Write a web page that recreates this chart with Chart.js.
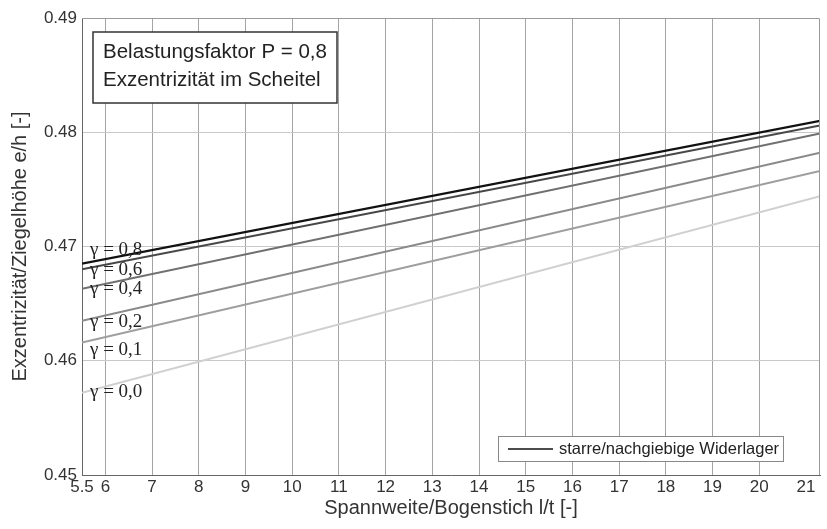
<!DOCTYPE html>
<html>
<head>
<meta charset="utf-8">
<script src="https://cdn.jsdelivr.net/npm/chart.js@4.4.1/dist/chart.umd.min.js"></script>
<style>
  body { margin: 0; background: #fff; }
</style>
</head>
<body>
<canvas id="chart" width="827" height="529"></canvas>
<script>
// values, one entry per gamma curve
const gammaLabels = ['0,8', '0,6', '0,4', '0,2', '0,1', '0,0'];
const xValues = [5.5, 21.3];
const valuesStart = [0.4685, 0.4680, 0.4663, 0.4635, 0.4616, 0.4572];
const valuesEnd = [0.4810, 0.4806, 0.4799, 0.4782, 0.4766, 0.4744];
const xTicks = [5.5, 6, 7, 8, 9, 10, 11, 12, 13, 14, 15, 16, 17, 18, 19, 20, 21];
const yTicks = [0.45, 0.46, 0.47, 0.48, 0.49];

const lineColors = ['#111111', '#474747', '#707070', '#8a8a8a', '#9e9e9e', '#d0d0d0'];
const labelShift = [-14, 1, 0, 1, 8, -1]; // px, so the text sits like in the original

const sans = '"Liberation Sans", Arial, sans-serif';

const datasets = gammaLabels.map((g, i) => ({
  label: 'γ = ' + g,
  data: [{ x: xValues[0], y: valuesStart[i] }, { x: xValues[1], y: valuesEnd[i] }],
  borderColor: lineColors[i],
  borderWidth: i === 0 ? 2.2 : 2,
  pointRadius: 0,
  tension: 0,
  fill: false,
}));

const overlay = {
  id: 'overlay',
  afterDatasetsDraw(chart) {
    const { ctx, chartArea: a, scales: { y } } = chart;
    ctx.save();

    // top and right frame
    ctx.strokeStyle = '#999';
    ctx.lineWidth = 1;
    ctx.beginPath();
    ctx.moveTo(a.left, a.top + 0.5);
    ctx.lineTo(a.right - 0.5, a.top + 0.5);
    ctx.lineTo(a.right - 0.5, a.bottom);
    ctx.stroke();

    // gamma labels at the start of each line
    ctx.font = '19px "Liberation Serif", "DejaVu Serif", serif';
    ctx.fillStyle = '#222';
    ctx.textBaseline = 'middle';
    gammaLabels.forEach((g, i) => {
      ctx.fillText('γ = ' + g, a.left + 8, y.getPixelForValue(valuesStart[i]) + labelShift[i]);
    });

    // info box top left
    const bx = a.left + 11, by = a.top + 14, bw = 244, bh = 71;
    ctx.fillStyle = '#fff';
    ctx.fillRect(bx, by, bw, bh);
    ctx.strokeStyle = '#333';
    ctx.lineWidth = 1.5;
    ctx.strokeRect(bx, by, bw, bh);
    ctx.fillStyle = '#222';
    ctx.font = '20.5px ' + sans;
    ctx.textBaseline = 'alphabetic';
    ctx.fillText('Belastungsfaktor P = 0,8', bx + 10, by + 26);
    ctx.fillText('Exzentrizität im Scheitel', bx + 10, by + 54);

    // legend box bottom right
    const lw = 285, lh = 25;
    const lx = a.right - 37 - lw, ly = a.bottom - 14 - lh;
    ctx.fillStyle = '#fff';
    ctx.fillRect(lx, ly, lw, lh);
    ctx.strokeStyle = '#888';
    ctx.lineWidth = 1;
    ctx.strokeRect(lx + 0.5, ly + 0.5, lw, lh);
    ctx.strokeStyle = '#111';
    ctx.lineWidth = 1.5;
    ctx.beginPath();
    ctx.moveTo(lx + 10, ly + 13);
    ctx.lineTo(lx + 55, ly + 13);
    ctx.stroke();
    ctx.fillStyle = '#222';
    ctx.font = '16.5px ' + sans;
    ctx.textBaseline = 'middle';
    ctx.fillText('starre/nachgiebige Widerlager', lx + 61, ly + 13);

    ctx.restore();
  }
};

new Chart(document.getElementById('chart'), {
  type: 'line',
  data: { datasets },
  options: {
    responsive: false,
    animation: false,
    devicePixelRatio: 1,
    layout: { padding: { top: 18, right: 7, left: 0, bottom: 0 } },
    plugins: {
      legend: { display: false },
      tooltip: { enabled: false },
    },
    scales: {
      x: {
        type: 'linear',
        min: 5.5,
        max: 21.3,
        afterBuildTicks: (scale) => { scale.ticks = xTicks.map(v => ({ value: v })); },
        afterFit: (scale) => { scale.height = 54; },
        ticks: {
          autoSkip: false,
          maxRotation: 0,
          padding: 2,
          color: '#333',
          font: { family: sans, size: 17 },
          callback: (v) => String(v),
        },
        grid: {
          drawTicks: false,
          color: (c) => (c.tick && (c.tick.value === 5.5 || c.tick.value === 21)) ? 'rgba(0,0,0,0)' : '#a4a4a4',
        },
        border: { color: '#666' },
        title: {
          display: true,
          text: 'Spannweite/Bogenstich l/t [-]',
          color: '#333',
          font: { family: sans, size: 20 },
          padding: { top: 0, bottom: 9 },
        },
      },
      y: {
        min: 0.45,
        max: 0.49,
        afterBuildTicks: (scale) => { scale.ticks = yTicks.map(v => ({ value: v })); },
        afterFit: (scale) => { scale.width = 82; },
        ticks: {
          padding: 5,
          color: '#333',
          font: { family: sans, size: 17 },
          callback: (v) => v.toFixed(2),
        },
        grid: {
          drawTicks: false,
          color: (c) => (c.tick && (c.tick.value === 0.45 || c.tick.value === 0.49)) ? 'rgba(0,0,0,0)' : '#c8c8c8',
        },
        border: { color: '#666' },
        title: {
          display: true,
          text: 'Exzentrizität/Ziegelhöhe e/h [-]',
          color: '#333',
          font: { family: sans, size: 20 },
          padding: { top: 8, bottom: 0 },
        },
      },
    },
  },
  plugins: [overlay],
});
</script>
</body>
</html>
